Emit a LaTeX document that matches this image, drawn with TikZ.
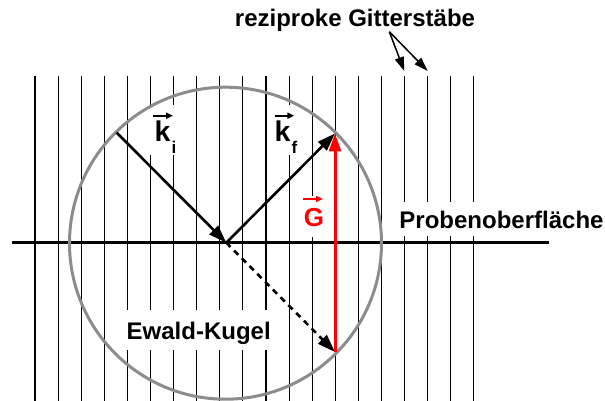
\documentclass[tikz,border=0pt]{standalone}
\usepackage{fontspec}
\setmainfont{Liberation Sans}
\usetikzlibrary{arrows.meta,calc}
\definecolor{circgray}{RGB}{140,140,140}
\begin{document}
\begin{tikzpicture}[x=1pt,y=-1pt,
  rod/.style={line width=1.15pt,black},
  lbl/.style={fill=white,inner ysep=0pt,inner xsep=5pt,anchor=base},
  big/.style={-{Triangle[length=18pt,width=12pt]},line width=2.6pt},
  vecar/.style={-{Triangle[length=7pt,width=6pt]},line width=2pt},
  thinar/.style={-{Triangle[length=14pt,width=9pt]},line width=1.5pt},
]
\useasboundingbox (0,0) rectangle (605,401);
% reciprocal lattice rods
\foreach \i in {0,...,19} \draw[rod] ({35+23.1*\i},75.7) -- ({35+23.1*\i},401);
% sample surface
\draw[line width=2.7pt] (12,242.7) -- (549,242.7);
% labels with white background
\node[lbl, text height=36.7pt, text depth=13.3pt, inner xsep=6pt, font=\bfseries] (ki) at (165.5,141.7)
  {\fontsize{28.5}{30}\selectfont k\hspace{1pt}\raisebox{-11.6pt}{\fontsize{17}{18}\selectfont i}};
\node[lbl, text height=36.7pt, text depth=13.3pt, inner xsep=6pt, font=\bfseries] (kf) at (286,141.7)
  {\fontsize{28.5}{30}\selectfont k\hspace{1pt}\raisebox{-11.6pt}{\fontsize{17}{18}\selectfont f}};
\node[lbl, text height=30pt, text depth=10.7pt, inner xsep=4pt, text=red, font=\bfseries\fontsize{26}{30}\selectfont] (G) at (314,226) {G};
\node[lbl, text height=26.3pt, text depth=7.7pt, inner xsep=6pt, font=\bfseries\fontsize{24}{28}\selectfont] (probe) at (501.5,228.3) {Probenoberfläche};
\node[lbl, text height=29.3pt, text depth=10.7pt, inner xsep=7pt, font=\bfseries\fontsize{24}{28}\selectfont] (ewald) at (198.7,339.3) {Ewald-Kugel};
\node[anchor=base, inner sep=0pt, font=\bfseries\fontsize{24}{28}\selectfont] (rez) at (355,26.5) {reziproke Gitterstäbe};
% Ewald sphere
\draw[circgray, line width=3pt] (225.5,243.2) circle[radius=156];
% key points
\coordinate (O) at (226.3,242.7);
\coordinate (A) at (116.7,132.7);
\coordinate (B) at (335,133.5);
\coordinate (C) at (335,352);
\coordinate (rs) at (389.3,31.7);
\coordinate (t1) at (404.3,71);
\coordinate (t2) at (427.7,71);
% wave vectors
\draw[big] (A) -- (O);
\draw[big] (O) -- (B);
\draw[big, dash pattern=on 6pt off 5pt] (O) -- (C);
\draw[big, red, line width=3pt] (C) -- (B);
% vector arrows over labels
\draw[vecar] ($(ki.base)+(-12.5,-26)$) -- ($(ki.base)+(7.5,-26)$);
\draw[vecar] ($(kf.base)+(-11,-26)$) -- ($(kf.base)+(8.3,-26)$);
\draw[vecar, red] ($(G.base)+(-11,-27)$) -- ($(G.base)+(9,-27)$);
% pointer arrows to rods
\draw[thinar] (rs) -- (t1);
\draw[thinar] (rs) -- (t2);
\end{tikzpicture}
\end{document}
